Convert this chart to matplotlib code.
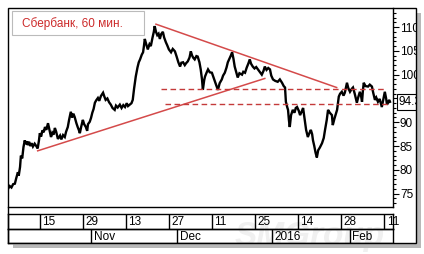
import numpy as np
import matplotlib
matplotlib.use("Agg")
from matplotlib import pyplot as plt
from matplotlib.patches import Rectangle

plt.rcParams['font.family'] = ['Liberation Sans', 'DejaVu Sans']

# trading day index (0 = 15 Oct 2015) and hourly close
days = [-7.4, -7.0, -6.6, -6.2, -5.8, -5.5, -5.1, -4.9, -4.6, -4.4, -4.1, -3.8, -3.5, -3.3,
        -3.0, -2.8, -2.5, -2.2, -1.9, -1.6, -1.2, -0.9, -0.5, -0.2, 0.0, 0.3, 0.6, 0.9,
        1.2, 1.5, 1.9, 2.2, 2.6, 2.9, 3.2, 3.5, 3.8, 4.2, 4.7, 5.0, 5.4, 5.8, 6.1, 6.5,
        6.8, 7.2, 7.5, 7.8, 8.1, 8.5, 8.8, 9.1, 9.3, 9.6, 10.0, 10.3, 10.7, 11.0, 11.2,
        11.6, 11.9, 12.2, 12.5, 12.8, 13.1, 13.5, 13.8, 14.2, 14.7, 15.0, 15.3, 15.7,
        16.1, 16.5, 16.9, 17.4, 17.7, 18.1, 18.6, 19.0, 19.4, 19.8, 20.2, 20.5, 20.9,
        21.3, 21.6, 21.9, 22.3, 22.7, 23.0, 23.3, 23.7, 24.0, 24.2, 24.4, 24.7, 25.1,
        25.5, 25.8, 26.2, 26.5, 26.7, 27.0, 27.3, 27.6, 27.9, 28.2, 28.6, 28.9, 29.3,
        29.6, 30.0, 30.5, 30.9, 31.4, 31.8, 32.2, 32.6, 32.9, 33.3, 33.7, 34.0, 34.4,
        34.8, 35.1, 35.4, 35.7, 36.0, 36.4, 36.7, 37.1, 37.4, 37.7, 37.9, 38.2, 38.4,
        38.8, 39.1, 39.5, 40.0, 40.3, 40.7, 41.0, 41.4, 41.8, 42.3, 42.6, 43.0, 43.4,
        43.7, 44.0, 44.4, 44.7, 45.0, 45.3, 45.7, 46.0, 46.4, 47.0, 47.3, 47.7, 48.1,
        48.5, 48.8, 49.1, 49.5, 49.9, 50.3, 50.7, 51.1, 51.6, 52.0, 52.3, 52.7, 53.1,
        53.5, 53.8, 54.2, 54.7, 55.3, 55.8, 56.3, 56.7, 57.0, 57.2, 57.5, 57.7, 57.9,
        58.1, 58.4, 58.8, 59.2, 59.5, 59.8, 60.2, 60.5, 60.9, 61.2, 61.5, 61.9, 62.3,
        62.7, 63.0, 63.3, 63.5, 63.8, 64.1, 64.4, 64.7, 65.1, 65.6, 66.0, 66.3, 66.7,
        67.0, 67.4, 67.9, 68.1, 68.5, 69.1, 69.5, 69.8, 70.2, 70.6, 70.9, 71.2, 71.4,
        71.7, 72.1, 72.5, 72.8, 73.2, 73.7, 74.0, 74.4, 74.7, 74.9, 75.1, 75.3, 75.7,
        76.3, 76.7, 77.2, 77.5, 77.9, 78.2, 78.6, 79.0, 79.5, 79.8, 80.2, 80.5, 80.7,
        81.0, 81.2, 81.4]
price = [76.0, 76.6, 76.3, 77.0, 77.1, 78.2, 79.5, 78.8, 80.6, 83.0, 82.4, 84.8, 86.2, 85.4,
         86.0, 85.2, 85.9, 85.0, 85.6, 84.9, 85.5, 85.1, 84.5, 86.2, 87.7, 87.0, 88.3, 87.9,
         89.0, 88.4, 89.8, 88.6, 86.9, 87.8, 87.4, 88.8, 88.0, 86.5, 87.2, 86.4, 87.3, 86.9,
         88.0, 89.0, 90.5, 92.2, 91.0, 91.8, 91.1, 89.8, 89.0, 88.3, 87.7, 89.0, 90.5, 89.6,
         89.0, 88.2, 89.6, 90.1, 90.9, 92.0, 92.8, 94.1, 94.6, 95.1, 94.5, 95.5, 96.2, 95.4,
         94.7, 95.0, 94.2, 93.7, 93.0, 92.6, 93.5, 93.1, 93.7, 93.0, 93.6, 93.2, 94.0, 93.4,
         93.7, 94.0, 94.7, 97.0, 99.6, 101.5, 102.6, 103.2, 104.2, 104.7, 106.0, 107.5,
         106.5, 105.3, 106.4, 106.0, 107.8, 109.0, 110.2, 109.0, 108.3, 108.6, 107.5, 108.5,
         109.0, 107.8, 106.8, 106.2, 105.3, 104.7, 105.4, 104.9, 103.8, 102.6, 101.7, 102.5,
         102.6, 102.0, 102.4, 102.8, 103.6, 104.9, 104.0, 103.5, 103.2, 103.9, 103.8, 102.6,
         101.1, 99.0, 96.8, 98.8, 99.6, 100.5, 101.1, 100.5, 100.4, 99.6, 98.5, 97.8, 96.8,
         98.2, 99.0, 99.8, 100.4, 101.5, 102.6, 103.2, 104.0, 104.7, 103.4, 101.7, 100.4,
         99.4, 100.3, 100.0, 100.6, 100.4, 101.5, 102.4, 103.2, 102.3, 101.7, 101.3, 101.6,
         101.1, 100.6, 100.0, 100.8, 101.7, 101.0, 101.4, 101.1, 99.8, 99.0, 98.7, 98.5,
         99.0, 98.3, 97.6, 97.3, 94.3, 93.2, 92.6, 90.5, 89.0, 91.5, 92.6, 92.0, 93.0, 93.2,
         92.4, 91.5, 92.3, 93.0, 91.0, 88.4, 86.9, 87.8, 88.4, 87.5, 86.2, 85.0, 83.6, 82.6,
         84.1, 84.7, 85.6, 86.7, 88.4, 90.5, 92.6, 92.0, 91.5, 89.4, 90.8, 92.6, 95.4, 96.0,
         96.4, 95.6, 96.2, 97.5, 98.3, 97.2, 96.4, 97.0, 97.3, 96.0, 94.1, 95.2, 96.4, 95.4,
         94.3, 96.6, 98.3, 97.6, 97.5, 97.9, 97.5, 96.2, 94.7, 95.2, 94.3, 94.9, 93.2, 94.6,
         96.4, 95.0, 93.7, 94.2, 94.7, 94.3]

# trend lines (day, price) and horizontal levels
down_days = [27.0, 69.0]
down_price = [110.6, 97.3]
up_days = [-0.5, 52.3]
up_price = [84.0, 99.2]
levels = [97.05, 93.9]
level_from = [28.1, 29.1]
level_to = [80.2, 81.4]

day_ticks = [0, 10, 20, 30, 40, 50, 60, 70, 80]
day_labels = ['15', '29', '13', '27', '11', '25', '14', '28', '11']
month_start = [12, 32, 54, 72]
month_labels = ['Nov', 'Dec', '2016', 'Feb']

W, H = 424, 254
fig = plt.figure(figsize=(W / 100, H / 100), dpi=100)
fig.patch.set_facecolor('white')

def box(x0, y0, x1, y1):
    return [x0 / W, 1 - y1 / H, (x1 - x0) / W, (y1 - y0) / H]

xlim = (-7.4, 82.1)
ax = fig.add_axes(box(8, 8, 393, 207))
ax.plot(days, price, color='black', lw=1.7, solid_joinstyle='miter')
ax.plot(down_days, down_price, color='#d44a4a', lw=1.1)
ax.plot(up_days, up_price, color='#d44a4a', lw=1.1)
for lv, a, b in zip(levels, level_from, level_to):
    ax.plot([a, b], [lv, lv], color='#c43a3a', lw=1.0, ls=(0, (4, 2.5)))
ax.set_xlim(*xlim)
ax.set_ylim(72.2, 114.0)
ax.set_xticks([])
ax.yaxis.tick_right()
ax.set_yticks(np.arange(75, 111, 5))
ax.set_yticks(np.arange(73, 114, 1), minor=True)
ax.tick_params(axis='y', which='major', length=4, width=0.8, pad=1, labelsize=8.5)
ax.tick_params(axis='y', which='minor', length=2.3, width=0.8)
for s in ax.spines.values():
    s.set_linewidth(1.0)
ax.spines['top'].set_visible(False)
ax.spines['left'].set_visible(False)

# title box
ax.add_patch(Rectangle((4 / 385, 1 - 27 / 199), 132 / 385, 24 / 199, transform=ax.transAxes,
                       fc='white', ec='#bbbbbb', lw=0.8, zorder=4))
ax.text(14 / 385, 1 - 15.5 / 199, 'Сбербанк, 60 мин.', transform=ax.transAxes,
        color='#cc2a2a', fontsize=8.5, va='center', ha='left', zorder=5)

ax.annotate('94.3', xy=(1.0, price[-1]), xycoords=('axes fraction', 'data'),
            xytext=(4, 0), textcoords='offset points', va='center', ha='left',
            fontsize=8.5, annotation_clip=False,
            bbox=dict(boxstyle='square,pad=0.15', fc='white', ec='black', lw=0.8))

# date row and month row
axd = fig.add_axes(box(8, 214, 393, 229))
axm = fig.add_axes(box(8, 229, 393, 243))
for a in (axd, axm):
    a.set_xlim(*xlim)
    a.set_ylim(0, 1)
    a.set_xticks([])
    a.set_yticks([])
    a.patch.set_alpha(0)
    for s in a.spines.values():
        s.set_linewidth(1.0)
for d, lab in zip(day_ticks, day_labels):
    axd.axvline(d, color='black', lw=1.0)
    axd.text(d + 0.6, 0.45, lab, fontsize=8.5, va='center', ha='left')
for d, lab in zip(month_start, month_labels):
    axm.axvline(d, color='black', lw=1.0)
    axm.text(d + 0.6, 0.45, lab, fontsize=8.5, va='center', ha='left')

fig.text(310 / W, 1 - 236 / H, 'SMGroup', fontsize=24, style='italic', weight='bold',
         color='#f0f0f0', ha='center', va='center', zorder=-1)

# outer frame with shadow
fig.add_artist(Rectangle((416 / W, 0), 8 / W, 1, transform=fig.transFigure,
                         fc='white', ec='none', zorder=5))
fig.add_artist(Rectangle((416 / W, 1 - 248 / H), 5 / W, 235 / H, transform=fig.transFigure,
                         fc='#b8b8b8', ec='none', zorder=6))
fig.add_artist(Rectangle((13 / W, 1 - 248 / H), 408 / W, 5 / H, transform=fig.transFigure,
                         fc='#b8b8b8', ec='none', zorder=6))
fig.add_artist(Rectangle((8 / W, 1 - 243 / H), 408 / W, 235 / H, transform=fig.transFigure,
                         fc='none', ec='black', lw=1.0, zorder=7))

fig.savefig('out.png', dpi=100)
